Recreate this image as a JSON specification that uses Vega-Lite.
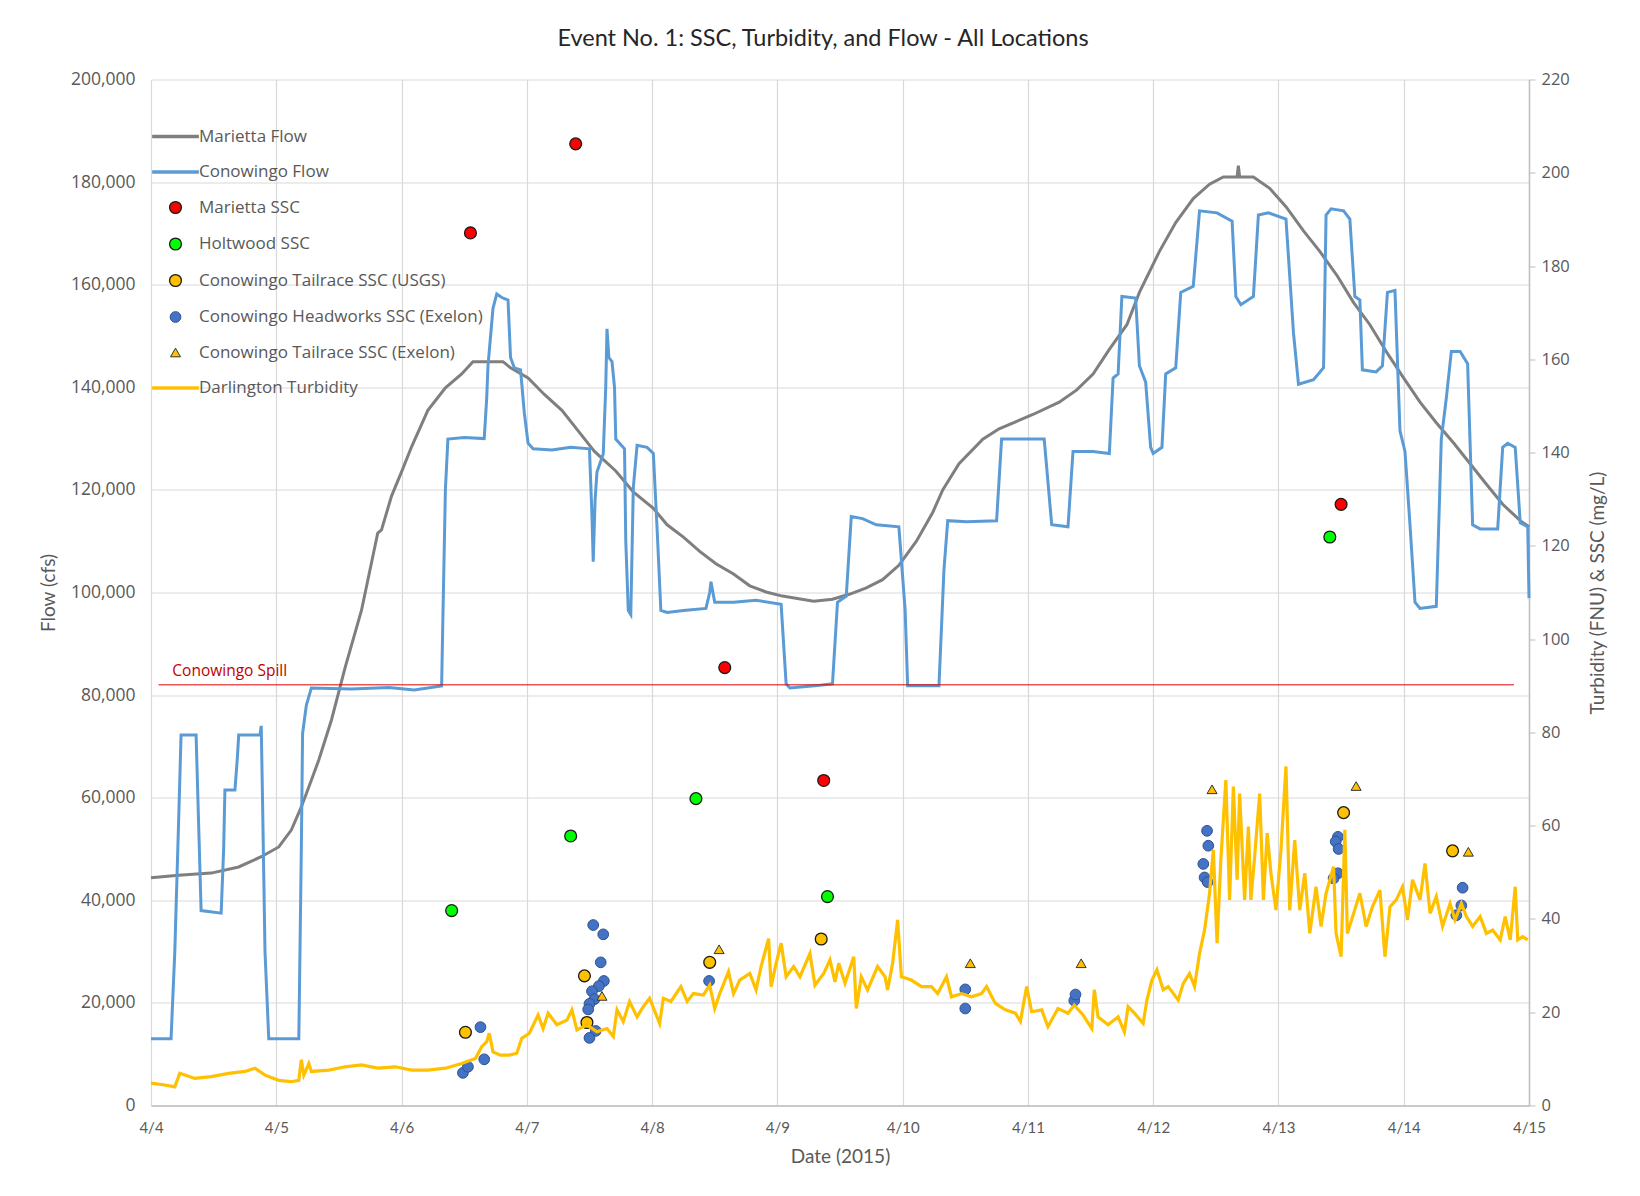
{
  "$schema": "https://vega.github.io/schema/vega-lite/v6.json",
  "width": 1378,
  "height": 1026,
  "autosize": {"type": "none"},
  "padding": {"left": 151, "top": 79.5, "right": 111, "bottom": 90.5},
  "background": "white",
  "title": {"text": "Event No. 1: SSC, Turbidity, and Flow - All Locations", "font": "Lato", "fontSize": 23.5, "fontWeight": "normal", "color": "#262626", "anchor": "middle", "dx": -17, "offset": 20},
  "config": {
    "view": {"stroke": null},
    "axis": {"labelFont": "Open Sans", "labelFontSize": 16.5, "labelColor": "#595959", "titleFont": "Lato", "titleFontSize": 19, "titleFontWeight": "normal", "titleColor": "#595959", "gridColor": "#d9d9d9", "gridWidth": 1.2, "domainColor": "#bfbfbf", "tickColor": "#bfbfbf"},
    "legend": {"orient": "none", "legendX": 16, "legendY": 48.5, "padding": 0, "labelFont": "Open Sans", "labelFontSize": 17, "labelColor": "#595959", "labelOffset": 15, "labelLimit": 500, "rowPadding": 17.5, "symbolOpacity": 1}
  },
  "encoding": {
    "x": {"field": "d", "type": "quantitative", "scale": {"domain": [4, 15], "nice": false, "zero": false},
      "axis": {"values": [4, 5, 6, 7, 8, 9, 10, 11, 12, 13, 14, 15], "labelExpr": "'4/' + datum.value", "title": "Date (2015)", "labelFont": "Lato", "labelFontSize": 15, "labelFlush": false, "labelOverlap": false, "labelPadding": 15, "ticks": false, "domain": true, "domainWidth": 1.5, "grid": true, "titlePadding": 12}}
  },
  "layer": [
    {
      "encoding": {
        "y": {"field": "f", "type": "quantitative", "scale": {"domain": [0, 200000], "nice": false},
          "axis": {"values": [0, 20000, 40000, 60000, 80000, 100000, 120000, 140000, 160000, 180000, 200000], "format": ",.0f", "title": "Flow (cfs)", "labelFontSize": 17.5, "ticks": false, "domain": false, "grid": true, "labelPadding": 16, "titlePadding": 12}}
      },
      "layer": [
        {
          "data": {"values": [
            {"s": "Marietta Flow", "d": 4.00, "f": 44400}, {"s": "Marietta Flow", "d": 4.22, "f": 44900}, {"s": "Marietta Flow", "d": 4.48, "f": 45300}, {"s": "Marietta Flow", "d": 4.70, "f": 46500}, {"s": "Marietta Flow", "d": 4.88, "f": 48500}, {"s": "Marietta Flow", "d": 5.02, "f": 50400}, {"s": "Marietta Flow", "d": 5.12, "f": 53700}, {"s": "Marietta Flow", "d": 5.20, "f": 58200}, {"s": "Marietta Flow", "d": 5.28, "f": 63400}, {"s": "Marietta Flow", "d": 5.34, "f": 67400}, {"s": "Marietta Flow", "d": 5.44, "f": 75100}, {"s": "Marietta Flow", "d": 5.55, "f": 85400}, {"s": "Marietta Flow", "d": 5.68, "f": 96500}, {"s": "Marietta Flow", "d": 5.81, "f": 111600}, {"s": "Marietta Flow", "d": 5.84, "f": 112200}, {"s": "Marietta Flow", "d": 5.92, "f": 118800}, {"s": "Marietta Flow", "d": 6.00, "f": 123500}, {"s": "Marietta Flow", "d": 6.08, "f": 128400}, {"s": "Marietta Flow", "d": 6.21, "f": 135500}, {"s": "Marietta Flow", "d": 6.35, "f": 139900}, {"s": "Marietta Flow", "d": 6.48, "f": 142600}, {"s": "Marietta Flow", "d": 6.57, "f": 145000}, {"s": "Marietta Flow", "d": 6.81, "f": 145000}, {"s": "Marietta Flow", "d": 6.87, "f": 143800}, {"s": "Marietta Flow", "d": 7.01, "f": 141800}, {"s": "Marietta Flow", "d": 7.14, "f": 138600}, {"s": "Marietta Flow", "d": 7.28, "f": 135500}, {"s": "Marietta Flow", "d": 7.41, "f": 131500}, {"s": "Marietta Flow", "d": 7.54, "f": 127500}, {"s": "Marietta Flow", "d": 7.71, "f": 123700}, {"s": "Marietta Flow", "d": 7.85, "f": 119600}, {"s": "Marietta Flow", "d": 8.01, "f": 116400}, {"s": "Marietta Flow", "d": 8.12, "f": 113200}, {"s": "Marietta Flow", "d": 8.25, "f": 110800}, {"s": "Marietta Flow", "d": 8.38, "f": 108000}, {"s": "Marietta Flow", "d": 8.51, "f": 105600}, {"s": "Marietta Flow", "d": 8.65, "f": 103600}, {"s": "Marietta Flow", "d": 8.78, "f": 101300}, {"s": "Marietta Flow", "d": 8.91, "f": 100100}, {"s": "Marietta Flow", "d": 9.04, "f": 99300}, {"s": "Marietta Flow", "d": 9.29, "f": 98300}, {"s": "Marietta Flow", "d": 9.44, "f": 98700}, {"s": "Marietta Flow", "d": 9.58, "f": 99700}, {"s": "Marietta Flow", "d": 9.71, "f": 100900}, {"s": "Marietta Flow", "d": 9.84, "f": 102500}, {"s": "Marietta Flow", "d": 9.97, "f": 105300}, {"s": "Marietta Flow", "d": 10.11, "f": 110000}, {"s": "Marietta Flow", "d": 10.24, "f": 115600}, {"s": "Marietta Flow", "d": 10.32, "f": 120000}, {"s": "Marietta Flow", "d": 10.45, "f": 125100}, {"s": "Marietta Flow", "d": 10.64, "f": 129900}, {"s": "Marietta Flow", "d": 10.77, "f": 131900}, {"s": "Marietta Flow", "d": 11.04, "f": 134700}, {"s": "Marietta Flow", "d": 11.25, "f": 137100}, {"s": "Marietta Flow", "d": 11.39, "f": 139500}, {"s": "Marietta Flow", "d": 11.52, "f": 142600}, {"s": "Marietta Flow", "d": 11.65, "f": 147400}, {"s": "Marietta Flow", "d": 11.79, "f": 152200}, {"s": "Marietta Flow", "d": 11.89, "f": 158500}, {"s": "Marietta Flow", "d": 12.05, "f": 166500}, {"s": "Marietta Flow", "d": 12.18, "f": 172100}, {"s": "Marietta Flow", "d": 12.32, "f": 176800}, {"s": "Marietta Flow", "d": 12.45, "f": 179600}, {"s": "Marietta Flow", "d": 12.56, "f": 181000}, {"s": "Marietta Flow", "d": 12.67, "f": 181000}, {"s": "Marietta Flow", "d": 12.68, "f": 183200}, {"s": "Marietta Flow", "d": 12.69, "f": 181000}, {"s": "Marietta Flow", "d": 12.80, "f": 181000}, {"s": "Marietta Flow", "d": 12.93, "f": 178800}, {"s": "Marietta Flow", "d": 13.06, "f": 175200}, {"s": "Marietta Flow", "d": 13.20, "f": 170500}, {"s": "Marietta Flow", "d": 13.33, "f": 166500}, {"s": "Marietta Flow", "d": 13.47, "f": 161700}, {"s": "Marietta Flow", "d": 13.60, "f": 156500}, {"s": "Marietta Flow", "d": 13.73, "f": 152200}, {"s": "Marietta Flow", "d": 13.87, "f": 146600}, {"s": "Marietta Flow", "d": 14.00, "f": 141800}, {"s": "Marietta Flow", "d": 14.13, "f": 137100}, {"s": "Marietta Flow", "d": 14.26, "f": 133100}, {"s": "Marietta Flow", "d": 14.40, "f": 129100}, {"s": "Marietta Flow", "d": 14.53, "f": 125100}, {"s": "Marietta Flow", "d": 14.66, "f": 121100}, {"s": "Marietta Flow", "d": 14.79, "f": 117200}, {"s": "Marietta Flow", "d": 14.93, "f": 114000}, {"s": "Marietta Flow", "d": 15.00, "f": 112800}
          ]},
          "mark": {"type": "line", "strokeWidth": 3, "interpolate": "linear"},
          "encoding": {
            "stroke": {"field": "s", "type": "nominal", "legend": {"title": null},
              "scale": {"domain": ["Marietta Flow", "Conowingo Flow", "Marietta SSC", "Holtwood SSC", "Conowingo Tailrace SSC (USGS)", "Conowingo Headworks SSC (Exelon)", "Conowingo Tailrace SSC (Exelon)", "Darlington Turbidity"],
                "range": ["#7F7F7F", "#5B9BD5", "#1A1A1A", "#1A1A1A", "#1A1A1A", "#2F528F", "#333333", "#FFC000"]}}
          }
        },
        {
          "data": {"values": [
            {"s": "Conowingo Flow", "d": 4.00, "f": 13000}, {"s": "Conowingo Flow", "d": 4.16, "f": 13000}, {"s": "Conowingo Flow", "d": 4.19, "f": 30000}, {"s": "Conowingo Flow", "d": 4.22, "f": 55000}, {"s": "Conowingo Flow", "d": 4.24, "f": 72200}, {"s": "Conowingo Flow", "d": 4.36, "f": 72200}, {"s": "Conowingo Flow", "d": 4.38, "f": 55000}, {"s": "Conowingo Flow", "d": 4.40, "f": 38000}, {"s": "Conowingo Flow", "d": 4.56, "f": 37500}, {"s": "Conowingo Flow", "d": 4.58, "f": 50000}, {"s": "Conowingo Flow", "d": 4.59, "f": 61500}, {"s": "Conowingo Flow", "d": 4.67, "f": 61500}, {"s": "Conowingo Flow", "d": 4.69, "f": 68000}, {"s": "Conowingo Flow", "d": 4.70, "f": 72200}, {"s": "Conowingo Flow", "d": 4.87, "f": 72200}, {"s": "Conowingo Flow", "d": 4.88, "f": 74000}, {"s": "Conowingo Flow", "d": 4.89, "f": 60000}, {"s": "Conowingo Flow", "d": 4.91, "f": 30000}, {"s": "Conowingo Flow", "d": 4.94, "f": 13000}, {"s": "Conowingo Flow", "d": 5.18, "f": 13000}, {"s": "Conowingo Flow", "d": 5.20, "f": 50000}, {"s": "Conowingo Flow", "d": 5.21, "f": 72500}, {"s": "Conowingo Flow", "d": 5.24, "f": 78000}, {"s": "Conowingo Flow", "d": 5.28, "f": 81400}, {"s": "Conowingo Flow", "d": 5.60, "f": 81200}, {"s": "Conowingo Flow", "d": 5.90, "f": 81500}, {"s": "Conowingo Flow", "d": 6.10, "f": 81000}, {"s": "Conowingo Flow", "d": 6.32, "f": 81800}, {"s": "Conowingo Flow", "d": 6.33, "f": 95000}, {"s": "Conowingo Flow", "d": 6.35, "f": 120000}, {"s": "Conowingo Flow", "d": 6.37, "f": 129900}, {"s": "Conowingo Flow", "d": 6.50, "f": 130200}, {"s": "Conowingo Flow", "d": 6.66, "f": 130000}, {"s": "Conowingo Flow", "d": 6.68, "f": 138000}, {"s": "Conowingo Flow", "d": 6.69, "f": 144200}, {"s": "Conowingo Flow", "d": 6.73, "f": 155400}, {"s": "Conowingo Flow", "d": 6.76, "f": 158200}, {"s": "Conowingo Flow", "d": 6.80, "f": 157500}, {"s": "Conowingo Flow", "d": 6.85, "f": 157000}, {"s": "Conowingo Flow", "d": 6.87, "f": 145800}, {"s": "Conowingo Flow", "d": 6.90, "f": 143800}, {"s": "Conowingo Flow", "d": 6.95, "f": 143400}, {"s": "Conowingo Flow", "d": 6.98, "f": 135000}, {"s": "Conowingo Flow", "d": 7.01, "f": 129100}, {"s": "Conowingo Flow", "d": 7.05, "f": 128000}, {"s": "Conowingo Flow", "d": 7.20, "f": 127800}, {"s": "Conowingo Flow", "d": 7.35, "f": 128300}, {"s": "Conowingo Flow", "d": 7.50, "f": 128000}, {"s": "Conowingo Flow", "d": 7.52, "f": 115000}, {"s": "Conowingo Flow", "d": 7.53, "f": 106000}, {"s": "Conowingo Flow", "d": 7.545, "f": 118000}, {"s": "Conowingo Flow", "d": 7.56, "f": 123500}, {"s": "Conowingo Flow", "d": 7.61, "f": 127000}, {"s": "Conowingo Flow", "d": 7.63, "f": 140000}, {"s": "Conowingo Flow", "d": 7.64, "f": 151400}, {"s": "Conowingo Flow", "d": 7.655, "f": 145800}, {"s": "Conowingo Flow", "d": 7.68, "f": 145000}, {"s": "Conowingo Flow", "d": 7.70, "f": 140000}, {"s": "Conowingo Flow", "d": 7.71, "f": 129900}, {"s": "Conowingo Flow", "d": 7.74, "f": 129100}, {"s": "Conowingo Flow", "d": 7.78, "f": 128000}, {"s": "Conowingo Flow", "d": 7.79, "f": 110000}, {"s": "Conowingo Flow", "d": 7.81, "f": 96500}, {"s": "Conowingo Flow", "d": 7.83, "f": 95700}, {"s": "Conowingo Flow", "d": 7.85, "f": 120400}, {"s": "Conowingo Flow", "d": 7.88, "f": 128700}, {"s": "Conowingo Flow", "d": 7.96, "f": 128300}, {"s": "Conowingo Flow", "d": 8.01, "f": 127100}, {"s": "Conowingo Flow", "d": 8.04, "f": 112400}, {"s": "Conowingo Flow", "d": 8.07, "f": 96500}, {"s": "Conowingo Flow", "d": 8.12, "f": 96100}, {"s": "Conowingo Flow", "d": 8.25, "f": 96500}, {"s": "Conowingo Flow", "d": 8.43, "f": 96900}, {"s": "Conowingo Flow", "d": 8.46, "f": 100000}, {"s": "Conowingo Flow", "d": 8.47, "f": 102100}, {"s": "Conowingo Flow", "d": 8.50, "f": 98100}, {"s": "Conowingo Flow", "d": 8.65, "f": 98100}, {"s": "Conowingo Flow", "d": 8.83, "f": 98500}, {"s": "Conowingo Flow", "d": 9.03, "f": 97700}, {"s": "Conowingo Flow", "d": 9.07, "f": 82200}, {"s": "Conowingo Flow", "d": 9.10, "f": 81400}, {"s": "Conowingo Flow", "d": 9.30, "f": 81800}, {"s": "Conowingo Flow", "d": 9.44, "f": 82200}, {"s": "Conowingo Flow", "d": 9.48, "f": 98100}, {"s": "Conowingo Flow", "d": 9.55, "f": 99300}, {"s": "Conowingo Flow", "d": 9.59, "f": 114800}, {"s": "Conowingo Flow", "d": 9.68, "f": 114400}, {"s": "Conowingo Flow", "d": 9.79, "f": 113200}, {"s": "Conowingo Flow", "d": 9.97, "f": 112800}, {"s": "Conowingo Flow", "d": 10.02, "f": 96500}, {"s": "Conowingo Flow", "d": 10.04, "f": 81800}, {"s": "Conowingo Flow", "d": 10.29, "f": 81800}, {"s": "Conowingo Flow", "d": 10.33, "f": 104500}, {"s": "Conowingo Flow", "d": 10.36, "f": 114000}, {"s": "Conowingo Flow", "d": 10.51, "f": 113800}, {"s": "Conowingo Flow", "d": 10.75, "f": 114000}, {"s": "Conowingo Flow", "d": 10.79, "f": 129900}, {"s": "Conowingo Flow", "d": 11.13, "f": 129900}, {"s": "Conowingo Flow", "d": 11.19, "f": 113200}, {"s": "Conowingo Flow", "d": 11.32, "f": 112800}, {"s": "Conowingo Flow", "d": 11.36, "f": 127500}, {"s": "Conowingo Flow", "d": 11.52, "f": 127500}, {"s": "Conowingo Flow", "d": 11.65, "f": 127100}, {"s": "Conowingo Flow", "d": 11.68, "f": 141800}, {"s": "Conowingo Flow", "d": 11.72, "f": 142600}, {"s": "Conowingo Flow", "d": 11.75, "f": 157700}, {"s": "Conowingo Flow", "d": 11.86, "f": 157400}, {"s": "Conowingo Flow", "d": 11.89, "f": 144200}, {"s": "Conowingo Flow", "d": 11.94, "f": 141000}, {"s": "Conowingo Flow", "d": 11.98, "f": 128300}, {"s": "Conowingo Flow", "d": 12.00, "f": 127100}, {"s": "Conowingo Flow", "d": 12.07, "f": 128300}, {"s": "Conowingo Flow", "d": 12.10, "f": 142600}, {"s": "Conowingo Flow", "d": 12.18, "f": 143800}, {"s": "Conowingo Flow", "d": 12.22, "f": 158500}, {"s": "Conowingo Flow", "d": 12.32, "f": 159700}, {"s": "Conowingo Flow", "d": 12.37, "f": 174400}, {"s": "Conowingo Flow", "d": 12.51, "f": 174000}, {"s": "Conowingo Flow", "d": 12.63, "f": 172400}, {"s": "Conowingo Flow", "d": 12.66, "f": 157700}, {"s": "Conowingo Flow", "d": 12.70, "f": 156100}, {"s": "Conowingo Flow", "d": 12.80, "f": 157700}, {"s": "Conowingo Flow", "d": 12.84, "f": 173600}, {"s": "Conowingo Flow", "d": 12.92, "f": 174000}, {"s": "Conowingo Flow", "d": 13.06, "f": 172800}, {"s": "Conowingo Flow", "d": 13.12, "f": 150600}, {"s": "Conowingo Flow", "d": 13.16, "f": 140600}, {"s": "Conowingo Flow", "d": 13.28, "f": 141500}, {"s": "Conowingo Flow", "d": 13.36, "f": 143800}, {"s": "Conowingo Flow", "d": 13.38, "f": 173600}, {"s": "Conowingo Flow", "d": 13.42, "f": 174800}, {"s": "Conowingo Flow", "d": 13.52, "f": 174400}, {"s": "Conowingo Flow", "d": 13.57, "f": 172800}, {"s": "Conowingo Flow", "d": 13.61, "f": 157700}, {"s": "Conowingo Flow", "d": 13.65, "f": 157000}, {"s": "Conowingo Flow", "d": 13.67, "f": 143400}, {"s": "Conowingo Flow", "d": 13.78, "f": 143000}, {"s": "Conowingo Flow", "d": 13.83, "f": 144200}, {"s": "Conowingo Flow", "d": 13.87, "f": 158500}, {"s": "Conowingo Flow", "d": 13.93, "f": 158900}, {"s": "Conowingo Flow", "d": 13.97, "f": 131500}, {"s": "Conowingo Flow", "d": 14.01, "f": 127500}, {"s": "Conowingo Flow", "d": 14.05, "f": 113200}, {"s": "Conowingo Flow", "d": 14.09, "f": 98100}, {"s": "Conowingo Flow", "d": 14.13, "f": 96900}, {"s": "Conowingo Flow", "d": 14.26, "f": 97300}, {"s": "Conowingo Flow", "d": 14.30, "f": 129900}, {"s": "Conowingo Flow", "d": 14.34, "f": 137900}, {"s": "Conowingo Flow", "d": 14.38, "f": 147000}, {"s": "Conowingo Flow", "d": 14.45, "f": 147000}, {"s": "Conowingo Flow", "d": 14.51, "f": 144600}, {"s": "Conowingo Flow", "d": 14.55, "f": 113200}, {"s": "Conowingo Flow", "d": 14.61, "f": 112400}, {"s": "Conowingo Flow", "d": 14.75, "f": 112400}, {"s": "Conowingo Flow", "d": 14.79, "f": 128300}, {"s": "Conowingo Flow", "d": 14.83, "f": 129100}, {"s": "Conowingo Flow", "d": 14.89, "f": 128300}, {"s": "Conowingo Flow", "d": 14.93, "f": 113600}, {"s": "Conowingo Flow", "d": 14.99, "f": 112800}, {"s": "Conowingo Flow", "d": 15.00, "f": 98900}
          ]},
          "mark": {"type": "line", "strokeWidth": 3, "interpolate": "linear"},
          "encoding": {
            "stroke": {"field": "s", "type": "nominal", "legend": {"title": null},
              "scale": {"domain": ["Marietta Flow", "Conowingo Flow", "Marietta SSC", "Holtwood SSC", "Conowingo Tailrace SSC (USGS)", "Conowingo Headworks SSC (Exelon)", "Conowingo Tailrace SSC (Exelon)", "Darlington Turbidity"],
                "range": ["#7F7F7F", "#5B9BD5", "#1A1A1A", "#1A1A1A", "#1A1A1A", "#2F528F", "#333333", "#FFC000"]}}
          }
        },
        {
          "data": {"values": [{"d": 4.06, "d2": 14.88, "f": 82000}]},
          "mark": {"type": "rule", "color": "#E00000", "strokeWidth": 1},
          "encoding": {"x2": {"field": "d2"}}
        },
        {
          "data": {"values": [{"d": 4.17, "f": 82000, "t": "Conowingo Spill"}]},
          "mark": {"type": "text", "align": "left", "baseline": "middle", "dy": -14, "font": "Open Sans", "fontSize": 15.5, "color": "#C00000"},
          "encoding": {"text": {"field": "t"}}
        }
      ]
    },
    {
      "encoding": {
        "y": {"field": "v", "type": "quantitative", "scale": {"domain": [0, 220], "nice": false},
          "axis": {"orient": "right", "values": [0, 20, 40, 60, 80, 100, 120, 140, 160, 180, 200, 220], "title": "Turbidity (FNU) & SSC (mg/L)", "titleAngle": 270, "grid": false, "ticks": true, "tickSize": 6, "domain": true, "domainWidth": 1.5, "labelPadding": 6, "titlePadding": 38}}
      },
      "layer": [
        {
          "data": {"values": [
            {"s": "Marietta SSC", "d": 6.55, "v": 187.1}, {"s": "Marietta SSC", "d": 7.39, "v": 206.2}, {"s": "Marietta SSC", "d": 8.58, "v": 93.9}, {"s": "Marietta SSC", "d": 9.37, "v": 69.7}, {"s": "Marietta SSC", "d": 13.50, "v": 128.9},
            {"s": "Holtwood SSC", "d": 6.40, "v": 41.8}, {"s": "Holtwood SSC", "d": 7.35, "v": 57.8}, {"s": "Holtwood SSC", "d": 8.35, "v": 65.8}, {"s": "Holtwood SSC", "d": 9.40, "v": 44.8}, {"s": "Holtwood SSC", "d": 13.41, "v": 121.9},
            {"s": "Conowingo Tailrace SSC (USGS)", "d": 6.51, "v": 15.7}, {"s": "Conowingo Tailrace SSC (USGS)", "d": 7.46, "v": 27.8}, {"s": "Conowingo Tailrace SSC (USGS)", "d": 7.48, "v": 17.8}, {"s": "Conowingo Tailrace SSC (USGS)", "d": 8.46, "v": 30.7}, {"s": "Conowingo Tailrace SSC (USGS)", "d": 9.35, "v": 35.7}, {"s": "Conowingo Tailrace SSC (USGS)", "d": 13.52, "v": 62.8}, {"s": "Conowingo Tailrace SSC (USGS)", "d": 14.39, "v": 54.6},
            {"s": "Conowingo Headworks SSC (Exelon)", "d": 6.49, "v": 7.0}, {"s": "Conowingo Headworks SSC (Exelon)", "d": 6.53, "v": 8.3}, {"s": "Conowingo Headworks SSC (Exelon)", "d": 6.63, "v": 16.8}, {"s": "Conowingo Headworks SSC (Exelon)", "d": 6.66, "v": 9.9}, {"s": "Conowingo Headworks SSC (Exelon)", "d": 7.53, "v": 38.7}, {"s": "Conowingo Headworks SSC (Exelon)", "d": 7.61, "v": 36.7}, {"s": "Conowingo Headworks SSC (Exelon)", "d": 7.59, "v": 30.7}, {"s": "Conowingo Headworks SSC (Exelon)", "d": 7.615, "v": 26.7}, {"s": "Conowingo Headworks SSC (Exelon)", "d": 7.575, "v": 25.6}, {"s": "Conowingo Headworks SSC (Exelon)", "d": 7.52, "v": 24.5}, {"s": "Conowingo Headworks SSC (Exelon)", "d": 7.54, "v": 22.8}, {"s": "Conowingo Headworks SSC (Exelon)", "d": 7.50, "v": 21.8}, {"s": "Conowingo Headworks SSC (Exelon)", "d": 7.49, "v": 20.6}, {"s": "Conowingo Headworks SSC (Exelon)", "d": 7.55, "v": 16.0}, {"s": "Conowingo Headworks SSC (Exelon)", "d": 7.50, "v": 14.5}, {"s": "Conowingo Headworks SSC (Exelon)", "d": 8.455, "v": 26.7}, {"s": "Conowingo Headworks SSC (Exelon)", "d": 10.50, "v": 24.9}, {"s": "Conowingo Headworks SSC (Exelon)", "d": 10.50, "v": 20.8}, {"s": "Conowingo Headworks SSC (Exelon)", "d": 11.37, "v": 22.5}, {"s": "Conowingo Headworks SSC (Exelon)", "d": 11.38, "v": 23.8}, {"s": "Conowingo Headworks SSC (Exelon)", "d": 12.43, "v": 58.9}, {"s": "Conowingo Headworks SSC (Exelon)", "d": 12.44, "v": 55.7}, {"s": "Conowingo Headworks SSC (Exelon)", "d": 12.40, "v": 51.8}, {"s": "Conowingo Headworks SSC (Exelon)", "d": 12.41, "v": 48.9}, {"s": "Conowingo Headworks SSC (Exelon)", "d": 12.435, "v": 47.9}, {"s": "Conowingo Headworks SSC (Exelon)", "d": 13.475, "v": 57.6}, {"s": "Conowingo Headworks SSC (Exelon)", "d": 13.457, "v": 56.6}, {"s": "Conowingo Headworks SSC (Exelon)", "d": 13.48, "v": 55.0}, {"s": "Conowingo Headworks SSC (Exelon)", "d": 13.475, "v": 49.8}, {"s": "Conowingo Headworks SSC (Exelon)", "d": 13.44, "v": 48.7}, {"s": "Conowingo Headworks SSC (Exelon)", "d": 14.47, "v": 46.7}, {"s": "Conowingo Headworks SSC (Exelon)", "d": 14.46, "v": 42.9}, {"s": "Conowingo Headworks SSC (Exelon)", "d": 14.42, "v": 40.8},
            {"s": "Conowingo Tailrace SSC (Exelon)", "d": 7.60, "v": 23.5}, {"s": "Conowingo Tailrace SSC (Exelon)", "d": 8.535, "v": 33.5}, {"s": "Conowingo Tailrace SSC (Exelon)", "d": 10.54, "v": 30.5}, {"s": "Conowingo Tailrace SSC (Exelon)", "d": 11.425, "v": 30.5}, {"s": "Conowingo Tailrace SSC (Exelon)", "d": 12.47, "v": 67.8}, {"s": "Conowingo Tailrace SSC (Exelon)", "d": 13.62, "v": 68.5}, {"s": "Conowingo Tailrace SSC (Exelon)", "d": 14.516, "v": 54.4}
          ]},
          "mark": {"type": "point", "filled": true, "opacity": 1},
          "encoding": {
            "color": {"field": "s", "type": "nominal", "legend": {"title": null},
              "scale": {"domain": ["Marietta Flow", "Conowingo Flow", "Marietta SSC", "Holtwood SSC", "Conowingo Tailrace SSC (USGS)", "Conowingo Headworks SSC (Exelon)", "Conowingo Tailrace SSC (Exelon)", "Darlington Turbidity"],
                "range": ["#7F7F7F", "#5B9BD5", "#FF0000", "#00FF00", "#FFC000", "#4472C4", "#FFC000", "#FFC000"]}},
            "stroke": {"field": "s", "type": "nominal", "legend": {"title": null},
              "scale": {"domain": ["Marietta Flow", "Conowingo Flow", "Marietta SSC", "Holtwood SSC", "Conowingo Tailrace SSC (USGS)", "Conowingo Headworks SSC (Exelon)", "Conowingo Tailrace SSC (Exelon)", "Darlington Turbidity"],
                "range": ["#7F7F7F", "#5B9BD5", "#1A1A1A", "#1A1A1A", "#1A1A1A", "#2F528F", "#333333", "#FFC000"]}},
            "shape": {"field": "s", "type": "nominal", "legend": {"title": null},
              "scale": {"domain": ["Marietta Flow", "Conowingo Flow", "Marietta SSC", "Holtwood SSC", "Conowingo Tailrace SSC (USGS)", "Conowingo Headworks SSC (Exelon)", "Conowingo Tailrace SSC (Exelon)", "Darlington Turbidity"],
                "range": ["M-4.1,0L4.1,0", "M-4.1,0L4.1,0", "circle", "circle", "circle", "circle", "triangle-up", "M-4.1,0L4.1,0"]}},
            "size": {"field": "s", "type": "nominal", "legend": {"title": null},
              "scale": {"type": "ordinal", "domain": ["Marietta Flow", "Conowingo Flow", "Marietta SSC", "Holtwood SSC", "Conowingo Tailrace SSC (USGS)", "Conowingo Headworks SSC (Exelon)", "Conowingo Tailrace SSC (Exelon)", "Darlington Turbidity"],
                "range": [130, 130, 140, 140, 140, 115, 100, 130]}},
            "strokeWidth": {"field": "s", "type": "nominal", "legend": {"title": null},
              "scale": {"type": "ordinal", "domain": ["Marietta Flow", "Conowingo Flow", "Marietta SSC", "Holtwood SSC", "Conowingo Tailrace SSC (USGS)", "Conowingo Headworks SSC (Exelon)", "Conowingo Tailrace SSC (Exelon)", "Darlington Turbidity"],
                "range": [3.5, 3.5, 1.3, 1.3, 1.3, 1, 1, 3.5]}}
          }
        },
        {
          "data": {"values": [
            {"s": "Darlington Turbidity", "d": 4.00, "v": 4.8}, {"s": "Darlington Turbidity", "d": 4.11, "v": 4.4}, {"s": "Darlington Turbidity", "d": 4.19, "v": 4.0}, {"s": "Darlington Turbidity", "d": 4.23, "v": 6.9}, {"s": "Darlington Turbidity", "d": 4.35, "v": 5.8}, {"s": "Darlington Turbidity", "d": 4.48, "v": 6.2}, {"s": "Darlington Turbidity", "d": 4.62, "v": 6.9}, {"s": "Darlington Turbidity", "d": 4.75, "v": 7.3}, {"s": "Darlington Turbidity", "d": 4.83, "v": 8.0}, {"s": "Darlington Turbidity", "d": 4.91, "v": 6.5}, {"s": "Darlington Turbidity", "d": 5.02, "v": 5.4}, {"s": "Darlington Turbidity", "d": 5.12, "v": 5.1}, {"s": "Darlington Turbidity", "d": 5.18, "v": 5.4}, {"s": "Darlington Turbidity", "d": 5.20, "v": 9.8}, {"s": "Darlington Turbidity", "d": 5.22, "v": 6.5}, {"s": "Darlington Turbidity", "d": 5.26, "v": 9.0}, {"s": "Darlington Turbidity", "d": 5.28, "v": 7.3}, {"s": "Darlington Turbidity", "d": 5.42, "v": 7.6}, {"s": "Darlington Turbidity", "d": 5.55, "v": 8.3}, {"s": "Darlington Turbidity", "d": 5.68, "v": 8.7}, {"s": "Darlington Turbidity", "d": 5.81, "v": 8.0}, {"s": "Darlington Turbidity", "d": 5.95, "v": 8.3}, {"s": "Darlington Turbidity", "d": 6.08, "v": 7.6}, {"s": "Darlington Turbidity", "d": 6.21, "v": 7.6}, {"s": "Darlington Turbidity", "d": 6.35, "v": 8.0}, {"s": "Darlington Turbidity", "d": 6.48, "v": 9.0}, {"s": "Darlington Turbidity", "d": 6.59, "v": 10.1}, {"s": "Darlington Turbidity", "d": 6.64, "v": 12.6}, {"s": "Darlington Turbidity", "d": 6.68, "v": 13.7}, {"s": "Darlington Turbidity", "d": 6.70, "v": 15.5}, {"s": "Darlington Turbidity", "d": 6.73, "v": 11.5}, {"s": "Darlington Turbidity", "d": 6.79, "v": 10.8}, {"s": "Darlington Turbidity", "d": 6.86, "v": 10.8}, {"s": "Darlington Turbidity", "d": 6.92, "v": 11.2}, {"s": "Darlington Turbidity", "d": 6.96, "v": 14.4}, {"s": "Darlington Turbidity", "d": 7.02, "v": 15.5}, {"s": "Darlington Turbidity", "d": 7.09, "v": 19.4}, {"s": "Darlington Turbidity", "d": 7.13, "v": 16.5}, {"s": "Darlington Turbidity", "d": 7.17, "v": 19.8}, {"s": "Darlington Turbidity", "d": 7.24, "v": 17.3}, {"s": "Darlington Turbidity", "d": 7.32, "v": 18.3}, {"s": "Darlington Turbidity", "d": 7.36, "v": 20.5}, {"s": "Darlington Turbidity", "d": 7.40, "v": 16.2}, {"s": "Darlington Turbidity", "d": 7.48, "v": 17.3}, {"s": "Darlington Turbidity", "d": 7.56, "v": 15.8}, {"s": "Darlington Turbidity", "d": 7.64, "v": 16.5}, {"s": "Darlington Turbidity", "d": 7.69, "v": 14.8}, {"s": "Darlington Turbidity", "d": 7.72, "v": 20.5}, {"s": "Darlington Turbidity", "d": 7.77, "v": 18.0}, {"s": "Darlington Turbidity", "d": 7.82, "v": 22.3}, {"s": "Darlington Turbidity", "d": 7.88, "v": 19.0}, {"s": "Darlington Turbidity", "d": 7.93, "v": 21.2}, {"s": "Darlington Turbidity", "d": 7.98, "v": 23.0}, {"s": "Darlington Turbidity", "d": 8.06, "v": 17.6}, {"s": "Darlington Turbidity", "d": 8.09, "v": 23.0}, {"s": "Darlington Turbidity", "d": 8.15, "v": 22.3}, {"s": "Darlington Turbidity", "d": 8.23, "v": 25.5}, {"s": "Darlington Turbidity", "d": 8.28, "v": 22.3}, {"s": "Darlington Turbidity", "d": 8.33, "v": 24.0}, {"s": "Darlington Turbidity", "d": 8.41, "v": 23.7}, {"s": "Darlington Turbidity", "d": 8.46, "v": 25.8}, {"s": "Darlington Turbidity", "d": 8.50, "v": 20.8}, {"s": "Darlington Turbidity", "d": 8.54, "v": 24.0}, {"s": "Darlington Turbidity", "d": 8.61, "v": 28.7}, {"s": "Darlington Turbidity", "d": 8.65, "v": 24.0}, {"s": "Darlington Turbidity", "d": 8.70, "v": 26.9}, {"s": "Darlington Turbidity", "d": 8.78, "v": 28.3}, {"s": "Darlington Turbidity", "d": 8.83, "v": 24.8}, {"s": "Darlington Turbidity", "d": 8.87, "v": 29.8}, {"s": "Darlington Turbidity", "d": 8.93, "v": 35.8}, {"s": "Darlington Turbidity", "d": 8.95, "v": 25.5}, {"s": "Darlington Turbidity", "d": 8.99, "v": 30.5}, {"s": "Darlington Turbidity", "d": 9.03, "v": 34.8}, {"s": "Darlington Turbidity", "d": 9.07, "v": 27.6}, {"s": "Darlington Turbidity", "d": 9.13, "v": 29.8}, {"s": "Darlington Turbidity", "d": 9.18, "v": 27.6}, {"s": "Darlington Turbidity", "d": 9.26, "v": 32.6}, {"s": "Darlington Turbidity", "d": 9.30, "v": 25.8}, {"s": "Darlington Turbidity", "d": 9.37, "v": 28.3}, {"s": "Darlington Turbidity", "d": 9.42, "v": 31.2}, {"s": "Darlington Turbidity", "d": 9.46, "v": 26.5}, {"s": "Darlington Turbidity", "d": 9.49, "v": 30.5}, {"s": "Darlington Turbidity", "d": 9.54, "v": 26.2}, {"s": "Darlington Turbidity", "d": 9.61, "v": 31.9}, {"s": "Darlington Turbidity", "d": 9.63, "v": 20.8}, {"s": "Darlington Turbidity", "d": 9.67, "v": 27.6}, {"s": "Darlington Turbidity", "d": 9.72, "v": 24.8}, {"s": "Darlington Turbidity", "d": 9.80, "v": 29.8}, {"s": "Darlington Turbidity", "d": 9.86, "v": 27.6}, {"s": "Darlington Turbidity", "d": 9.88, "v": 24.8}, {"s": "Darlington Turbidity", "d": 9.92, "v": 30.5}, {"s": "Darlington Turbidity", "d": 9.96, "v": 39.8}, {"s": "Darlington Turbidity", "d": 9.99, "v": 27.6}, {"s": "Darlington Turbidity", "d": 10.07, "v": 26.9}, {"s": "Darlington Turbidity", "d": 10.15, "v": 25.5}, {"s": "Darlington Turbidity", "d": 10.23, "v": 25.5}, {"s": "Darlington Turbidity", "d": 10.28, "v": 24.0}, {"s": "Darlington Turbidity", "d": 10.35, "v": 27.6}, {"s": "Darlington Turbidity", "d": 10.39, "v": 23.3}, {"s": "Darlington Turbidity", "d": 10.47, "v": 24.0}, {"s": "Darlington Turbidity", "d": 10.55, "v": 23.3}, {"s": "Darlington Turbidity", "d": 10.63, "v": 24.0}, {"s": "Darlington Turbidity", "d": 10.67, "v": 25.5}, {"s": "Darlington Turbidity", "d": 10.74, "v": 21.9}, {"s": "Darlington Turbidity", "d": 10.82, "v": 20.5}, {"s": "Darlington Turbidity", "d": 10.90, "v": 19.8}, {"s": "Darlington Turbidity", "d": 10.94, "v": 18.0}, {"s": "Darlington Turbidity", "d": 10.99, "v": 25.5}, {"s": "Darlington Turbidity", "d": 11.03, "v": 20.1}, {"s": "Darlington Turbidity", "d": 11.11, "v": 20.5}, {"s": "Darlington Turbidity", "d": 11.16, "v": 16.9}, {"s": "Darlington Turbidity", "d": 11.24, "v": 20.8}, {"s": "Darlington Turbidity", "d": 11.32, "v": 19.8}, {"s": "Darlington Turbidity", "d": 11.37, "v": 21.5}, {"s": "Darlington Turbidity", "d": 11.44, "v": 19.4}, {"s": "Darlington Turbidity", "d": 11.51, "v": 16.5}, {"s": "Darlington Turbidity", "d": 11.53, "v": 24.8}, {"s": "Darlington Turbidity", "d": 11.56, "v": 19.0}, {"s": "Darlington Turbidity", "d": 11.64, "v": 17.3}, {"s": "Darlington Turbidity", "d": 11.72, "v": 19.0}, {"s": "Darlington Turbidity", "d": 11.77, "v": 15.8}, {"s": "Darlington Turbidity", "d": 11.80, "v": 21.2}, {"s": "Darlington Turbidity", "d": 11.85, "v": 19.8}, {"s": "Darlington Turbidity", "d": 11.92, "v": 17.6}, {"s": "Darlington Turbidity", "d": 11.95, "v": 22.6}, {"s": "Darlington Turbidity", "d": 11.99, "v": 26.9}, {"s": "Darlington Turbidity", "d": 12.03, "v": 29.1}, {"s": "Darlington Turbidity", "d": 12.08, "v": 24.8}, {"s": "Darlington Turbidity", "d": 12.12, "v": 25.5}, {"s": "Darlington Turbidity", "d": 12.20, "v": 22.6}, {"s": "Darlington Turbidity", "d": 12.24, "v": 26.2}, {"s": "Darlington Turbidity", "d": 12.29, "v": 28.3}, {"s": "Darlington Turbidity", "d": 12.33, "v": 25.5}, {"s": "Darlington Turbidity", "d": 12.37, "v": 32.6}, {"s": "Darlington Turbidity", "d": 12.41, "v": 37.6}, {"s": "Darlington Turbidity", "d": 12.45, "v": 45.5}, {"s": "Darlington Turbidity", "d": 12.48, "v": 54.8}, {"s": "Darlington Turbidity", "d": 12.51, "v": 34.8}, {"s": "Darlington Turbidity", "d": 12.54, "v": 52.6}, {"s": "Darlington Turbidity", "d": 12.58, "v": 69.8}, {"s": "Darlington Turbidity", "d": 12.61, "v": 44.1}, {"s": "Darlington Turbidity", "d": 12.64, "v": 68.4}, {"s": "Darlington Turbidity", "d": 12.67, "v": 48.4}, {"s": "Darlington Turbidity", "d": 12.69, "v": 66.9}, {"s": "Darlington Turbidity", "d": 12.73, "v": 44.1}, {"s": "Darlington Turbidity", "d": 12.76, "v": 59.8}, {"s": "Darlington Turbidity", "d": 12.78, "v": 44.1}, {"s": "Darlington Turbidity", "d": 12.81, "v": 53.4}, {"s": "Darlington Turbidity", "d": 12.85, "v": 66.9}, {"s": "Darlington Turbidity", "d": 12.88, "v": 44.1}, {"s": "Darlington Turbidity", "d": 12.91, "v": 58.4}, {"s": "Darlington Turbidity", "d": 12.94, "v": 49.8}, {"s": "Darlington Turbidity", "d": 12.98, "v": 41.9}, {"s": "Darlington Turbidity", "d": 13.02, "v": 54.8}, {"s": "Darlington Turbidity", "d": 13.06, "v": 72.7}, {"s": "Darlington Turbidity", "d": 13.09, "v": 41.9}, {"s": "Darlington Turbidity", "d": 13.13, "v": 56.9}, {"s": "Darlington Turbidity", "d": 13.17, "v": 41.9}, {"s": "Darlington Turbidity", "d": 13.21, "v": 49.8}, {"s": "Darlington Turbidity", "d": 13.25, "v": 36.9}, {"s": "Darlington Turbidity", "d": 13.30, "v": 46.9}, {"s": "Darlington Turbidity", "d": 13.34, "v": 38.4}, {"s": "Darlington Turbidity", "d": 13.38, "v": 45.5}, {"s": "Darlington Turbidity", "d": 13.44, "v": 51.2}, {"s": "Darlington Turbidity", "d": 13.46, "v": 36.9}, {"s": "Darlington Turbidity", "d": 13.50, "v": 31.9}, {"s": "Darlington Turbidity", "d": 13.53, "v": 59.1}, {"s": "Darlington Turbidity", "d": 13.55, "v": 36.9}, {"s": "Darlington Turbidity", "d": 13.60, "v": 41.2}, {"s": "Darlington Turbidity", "d": 13.65, "v": 45.5}, {"s": "Darlington Turbidity", "d": 13.70, "v": 38.4}, {"s": "Darlington Turbidity", "d": 13.75, "v": 42.6}, {"s": "Darlington Turbidity", "d": 13.81, "v": 46.2}, {"s": "Darlington Turbidity", "d": 13.85, "v": 31.9}, {"s": "Darlington Turbidity", "d": 13.89, "v": 42.6}, {"s": "Darlington Turbidity", "d": 13.94, "v": 44.1}, {"s": "Darlington Turbidity", "d": 13.99, "v": 46.9}, {"s": "Darlington Turbidity", "d": 14.03, "v": 39.8}, {"s": "Darlington Turbidity", "d": 14.07, "v": 48.4}, {"s": "Darlington Turbidity", "d": 14.13, "v": 44.1}, {"s": "Darlington Turbidity", "d": 14.17, "v": 51.9}, {"s": "Darlington Turbidity", "d": 14.21, "v": 41.2}, {"s": "Darlington Turbidity", "d": 14.26, "v": 44.8}, {"s": "Darlington Turbidity", "d": 14.31, "v": 38.4}, {"s": "Darlington Turbidity", "d": 14.37, "v": 43.3}, {"s": "Darlington Turbidity", "d": 14.41, "v": 39.8}, {"s": "Darlington Turbidity", "d": 14.46, "v": 43.3}, {"s": "Darlington Turbidity", "d": 14.50, "v": 40.5}, {"s": "Darlington Turbidity", "d": 14.55, "v": 38.4}, {"s": "Darlington Turbidity", "d": 14.61, "v": 40.5}, {"s": "Darlington Turbidity", "d": 14.66, "v": 36.9}, {"s": "Darlington Turbidity", "d": 14.71, "v": 37.6}, {"s": "Darlington Turbidity", "d": 14.77, "v": 35.5}, {"s": "Darlington Turbidity", "d": 14.81, "v": 40.5}, {"s": "Darlington Turbidity", "d": 14.85, "v": 35.5}, {"s": "Darlington Turbidity", "d": 14.89, "v": 46.9}, {"s": "Darlington Turbidity", "d": 14.91, "v": 35.5}, {"s": "Darlington Turbidity", "d": 14.95, "v": 36.2}, {"s": "Darlington Turbidity", "d": 14.99, "v": 35.5}
          ]},
          "mark": {"type": "line", "strokeWidth": 3.2, "interpolate": "linear"},
          "encoding": {
            "stroke": {"field": "s", "type": "nominal", "legend": {"title": null},
              "scale": {"domain": ["Marietta Flow", "Conowingo Flow", "Marietta SSC", "Holtwood SSC", "Conowingo Tailrace SSC (USGS)", "Conowingo Headworks SSC (Exelon)", "Conowingo Tailrace SSC (Exelon)", "Darlington Turbidity"],
                "range": ["#7F7F7F", "#5B9BD5", "#1A1A1A", "#1A1A1A", "#1A1A1A", "#2F528F", "#333333", "#FFC000"]}}
          }
        }
      ]
    }
  ],
  "resolve": {"scale": {"y": "independent"}}
}
